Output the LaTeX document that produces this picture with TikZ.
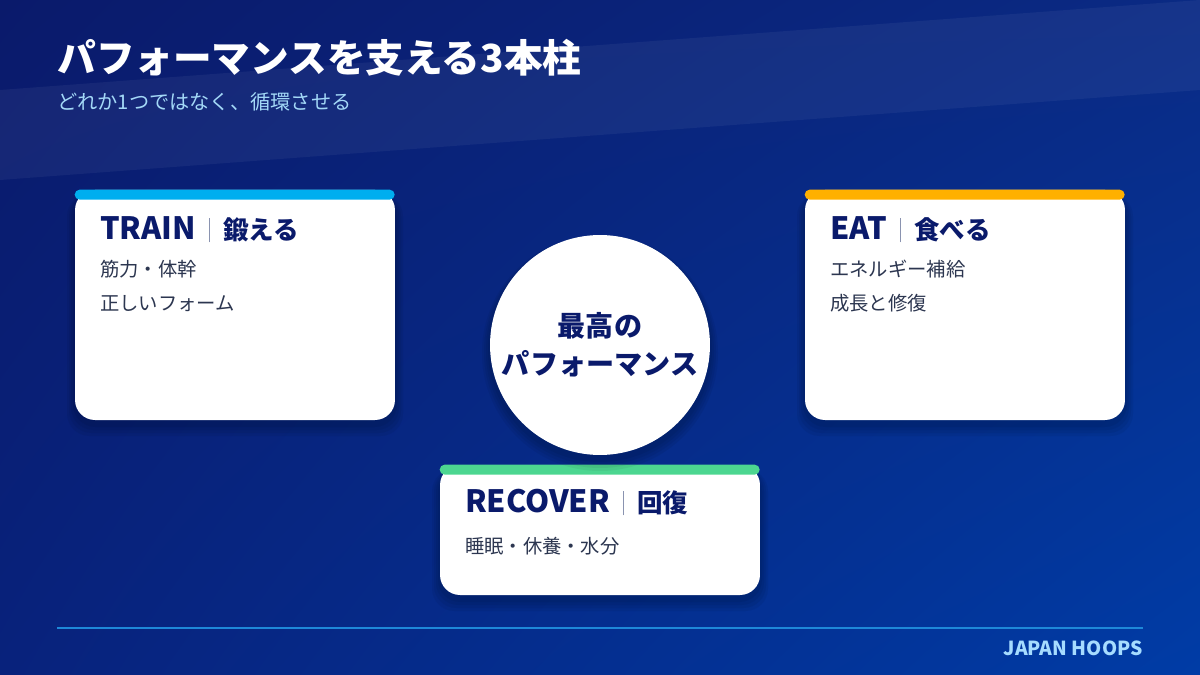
\documentclass[tikz,border=0pt]{standalone}
\usepackage{fontspec}
\setmainfont{Noto Sans CJK JP}[BoldFont={Noto Sans CJK JP Bold}]
\newfontfamily\heavyfont{Noto Sans CJK JP Black}
\usetikzlibrary{positioning,shadings}
\definecolor{navy}{HTML}{0A1A6B}
\definecolor{bgUL}{HTML}{0A1A6B}
\definecolor{bgUR}{HTML}{0A2A84}
\definecolor{bgLL}{HTML}{08227C}
\definecolor{bgLR}{HTML}{003CA6}
\definecolor{slate}{HTML}{2C3650}
\definecolor{sepgray}{HTML}{8A93B0}
\definecolor{skyblue}{HTML}{A3D8F7}
\definecolor{brandblue}{HTML}{A6DCFF}
\definecolor{rulecol}{HTML}{1E88D8}
\definecolor{trainbar}{HTML}{00AEEF}
\definecolor{eatbar}{HTML}{FFB000}
\definecolor{recoverbar}{HTML}{4CD690}
\newcommand{\cardhead}[2]{{\fontsize{17.5}{20}\selectfont #1}{\color{sepgray}\hspace{7.5pt}\rule[-1.5pt]{0.6pt}{14pt}\hspace{7.5pt}}{\fontsize{14.5}{18}\selectfont #2}}
\tikzstyle{card}=[fill=white, rounded corners=0.4cm, minimum width=6.4cm, inner sep=0pt]
\tikzstyle{bar}=[rounded corners=0.1cm]
\tikzstyle{soft shadow}=[black, opacity=0.05]
\tikzstyle{head}=[anchor=base west, inner sep=0pt, text=navy, font=\heavyfont]
\tikzstyle{item}=[anchor=base west, inner sep=0pt, text=slate, font=\fontsize{11}{13}\selectfont]
\tikzstyle{core}=[circle, fill=white, minimum size=4.4cm, inner sep=0pt, align=center, text=navy, font=\heavyfont\fontsize{16}{21.5}\selectfont]

\begin{document}
\begin{tikzpicture}[x=0.02cm, y=-0.02cm]
    \useasboundingbox (0,0) rectangle (1200,675);
    % background and light band
    \shade[upper left=bgUL, upper right=bgUR, lower left=bgLL, lower right=bgLR]
        (0,0) rectangle (1200,675);
    \fill[white, opacity=0.05] (0,90) -- (1200,0) -- (1200,90) -- (0,180) -- cycle;

    % title
    \node[anchor=west, inner sep=0pt, text=white, font=\heavyfont\fontsize{22}{26}\selectfont] (title) at (57,58) {パフォーマンスを支える3本柱};
    \node[anchor=west, inner sep=0pt, text=skyblue, font=\fontsize{11.5}{13}\selectfont] (subtitle) at (57,102) {どれか1つではなく、循環させる};

    % the three cards
    \foreach \name/\cx/\cy/\h/\col in {train/235/305/230/trainbar, eat/965/305/230/eatbar, recover/600/530/130/recoverbar}
    {
        \foreach \k in {1,...,4}
            \fill[soft shadow, rounded corners=0.45cm] ({\cx-160-\k*2},{\cy-\h/2+4}) rectangle ({\cx+160+\k*2},{\cy+\h/2+4+\k*3});
        \node[card, minimum height=\h*0.02cm] (\name) at (\cx,\cy) {};
        \fill[\col, bar] (\name.north west) rectangle ++(320,10);
    }

    \node[head] (trainhead) at ([shift={(25,50)}]train.north west) {\cardhead{TRAIN}{鍛える}};
    \node[item] (train1) at ([shift={(25,87)}]train.north west) {筋力・体幹};
    \node[item] (train2) at ([shift={(25,121)}]train.north west) {正しいフォーム};

    \node[head] (eathead) at ([shift={(25,50)}]eat.north west) {\cardhead{EAT}{食べる}};
    \node[item] (eat1) at ([shift={(25,87)}]eat.north west) {エネルギー補給};
    \node[item] (eat2) at ([shift={(25,121)}]eat.north west) {成長と修復};

    \node[head] (recoverhead) at ([shift={(25,48)}]recover.north west) {\cardhead{RECOVER}{回復}};
    \node[item] (recover1) at ([shift={(25,89)}]recover.north west) {睡眠・休養・水分};

    % centre circle
    \foreach \k in {1,...,4}
        \fill[soft shadow] (600,{349+\k}) circle ({110+\k*2});
    \node[core] (centre) at (600,345) {最高の\\パフォーマンス};

    % footer
    \coordinate (ruleL) at (57,628);
    \coordinate (ruleR) at (1143,628);
    \draw[rulecol, line width=1.1pt] (ruleL) -- (ruleR);
    \node[anchor=east, inner sep=0pt, text=brandblue, font=\heavyfont\fontsize{11}{12}\selectfont] (brand) at (1143,648) {JAPAN HOOPS};
\end{tikzpicture}
\end{document}
